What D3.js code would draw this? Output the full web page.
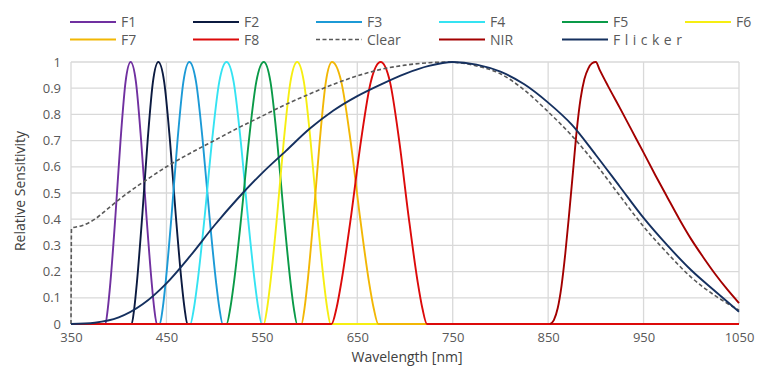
<!DOCTYPE html>
<html>
<head>
<meta charset="utf-8">
<script src="https://cdn.jsdelivr.net/npm/d3@7"></script>
<style>
  body { margin: 0; background: #fff; }
  svg { font-family: "Open Sans", "Liberation Sans", sans-serif; }
</style>
</head>
<body>
<div id="chart"></div>
<script>
// tick labels
const xTicks = [350, 450, 550, 650, 750, 850, 950, 1050];
const yTicks = [0, 0.1, 0.2, 0.3, 0.4, 0.5, 0.6, 0.7, 0.8, 0.9, 1];

// series: [wavelength nm, relative sensitivity]
const f1 = [[350,0],[386,0],[388.6,0.06],[391.3,0.16],[396.6,0.415],[401.9,0.7],[407.2,0.925],[412.5,1],[418,0.925],[423.5,0.7],[429,0.415],[434.5,0.16],[437.2,0.06],[440,0],[1050,0]];
const f2 = [[350,0],[413.5,0],[416.3,0.06],[419.1,0.16],[424.7,0.415],[430.3,0.7],[435.9,0.925],[441.5,1],[447.6,0.925],[453.7,0.7],[459.8,0.415],[465.9,0.16],[469,0.06],[472,0],[1050,0]];
const f3 = [[350,0],[443,0],[446.1,0.06],[449.2,0.16],[455.4,0.415],[461.6,0.7],[467.8,0.925],[474,1],[481,0.925],[488,0.7],[495,0.415],[502,0.16],[505.5,0.06],[509,0],[1050,0]];
const f4 = [[350,0],[475,0],[478.8,0.06],[482.6,0.16],[490.2,0.415],[497.8,0.7],[505.4,0.925],[513,1],[520.4,0.925],[527.8,0.7],[535.2,0.415],[542.6,0.16],[546.3,0.06],[550,0],[1050,0]];
const f5 = [[350,0],[513,0],[516.9,0.06],[520.8,0.16],[528.6,0.415],[536.4,0.7],[544.2,0.925],[552,1],[559,0.925],[566,0.7],[573,0.415],[580,0.16],[583.5,0.06],[587,0],[1050,0]];
const f6 = [[350,0],[552,0],[555.5,0.06],[559,0.16],[566,0.415],[573,0.7],[580,0.925],[587,1],[594,0.925],[601,0.7],[608,0.415],[615,0.16],[618.5,0.06],[622,0],[1050,0]];
const f7 = [[350,0],[591.5,0],[594.7,0.06],[597.9,0.16],[604.3,0.415],[610.7,0.7],[617.1,0.925],[623.5,1],[633.2,0.925],[642.9,0.7],[652.6,0.415],[662.3,0.16],[667.2,0.06],[672,0],[1050,0]];
const f8 = [[350,0],[623,0],[628.2,0.06],[633.3,0.16],[643.6,0.415],[653.9,0.7],[664.2,0.925],[674.5,1],[684.2,0.925],[693.9,0.7],[703.6,0.415],[713.3,0.16],[718.2,0.06],[723,0],[1050,0]];
const clear = [[350,0],[350.5,0.365],[362,0.376],[375,0.4],[387,0.435],[400,0.474],[425,0.54],[450,0.6],[475,0.652],[500,0.7],[525,0.748],[550,0.793],[575,0.838],[600,0.878],[625,0.915],[650,0.947],[675,0.972],[700,0.988],[725,0.997],[745,1],[775,0.985],[800,0.955],[825,0.893],[850,0.81],[875,0.718],[900,0.61],[925,0.49],[950,0.372],[975,0.27],[1000,0.178],[1025,0.108],[1050,0.053]];
const nir = [[852,0],[856,0.015],[860,0.06],[864,0.145],[868,0.27],[872,0.42],[876,0.58],[880,0.74],[884,0.86],[888,0.935],[892,0.975],[896,0.995],[900,1],[904,0.97],[912.5,0.91],[925,0.826],[937.5,0.74],[950,0.654],[962.5,0.567],[975,0.483],[987.5,0.4],[1000,0.323],[1012.5,0.255],[1025,0.191],[1037.5,0.133],[1050,0.08]];
const flicker = [[350,0],[375,0.005],[400,0.025],[425,0.075],[450,0.155],[475,0.26],[500,0.375],[525,0.48],[550,0.575],[575,0.66],[600,0.745],[625,0.815],[650,0.87],[675,0.915],[700,0.955],[725,0.985],[750,1],[775,0.99],[800,0.963],[825,0.915],[850,0.845],[875,0.76],[900,0.645],[925,0.525],[950,0.405],[975,0.3],[1000,0.205],[1025,0.125],[1050,0.047]];

const seriesNames = ["F1", "F2", "F3", "F4", "F5", "F6", "F7", "F8", "Clear", "NIR", "Flicker"];
const seriesData  = [f1, f2, f3, f4, f5, f6, f7, f8, clear, nir, flicker];
const colors = ["#7030a0", "#0b1a40", "#1c9ad6", "#35e3f2", "#0a9a48", "#f6ee12", "#f2b705", "#dc0a0a", "#595959", "#a30000", "#15305f"];

const W = 770, H = 388;
const svg = d3.select("#chart").append("svg")
  .attr("width", W)
  .attr("height", H);

const x = d3.scaleLinear().domain([350, 1050]).range([71, 739]);
const y = d3.scaleLinear().domain([0, 1]).range([324, 62]);

// grid
svg.append("g")
  .selectAll("line")
  .data(yTicks)
  .join("line")
    .attr("x1", x(350)).attr("x2", x(1050))
    .attr("y1", d => y(d)).attr("y2", d => y(d))
    .attr("stroke", "#d9d9d9")
    .attr("stroke-width", 1.3);
svg.append("g")
  .selectAll("line")
  .data(xTicks)
  .join("line")
    .attr("x1", d => x(d)).attr("x2", d => x(d))
    .attr("y1", y(0)).attr("y2", y(1))
    .attr("stroke", "#d9d9d9")
    .attr("stroke-width", 1.3);

// axes
const xAxis = svg.append("g")
  .attr("transform", `translate(0,${y(0)})`)
  .call(d3.axisBottom(x).tickValues(xTicks).tickSize(0).tickPadding(9).tickFormat(d3.format("")));
const yAxis = svg.append("g")
  .attr("transform", `translate(${x(350)},0)`)
  .call(d3.axisLeft(y).tickValues(yTicks).tickSize(0).tickPadding(10).tickFormat(d3.format("")));
[xAxis, yAxis].forEach(a => {
  a.select(".domain").remove();
  a.selectAll("text")
    .attr("fill", "#595959")
    .style("font-size", "13px")
    .style("font-family", "'Open Sans', sans-serif");
});

// axis titles
svg.append("text")
  .attr("x", 407)
  .attr("y", 362)
  .attr("text-anchor", "middle")
  .attr("fill", "#404040")
  .style("font-size", "14px")
  .text("Wavelength [nm]");
svg.append("text")
  .attr("transform", "rotate(-90)")
  .attr("x", -191)
  .attr("y", 25)
  .attr("text-anchor", "middle")
  .attr("fill", "#404040")
  .style("font-size", "14px")
  .text("Relative Sensitivity");

// lines
const line = d3.line()
  .x(d => x(d[0]))
  .y(d => y(d[1]))
  .curve(d3.curveMonotoneX);

seriesData.forEach((s, i) => {
  const name = seriesNames[i];
  svg.append("path")
    .datum(s)
    .attr("fill", "none")
    .attr("stroke", colors[i])
    .attr("stroke-width", name === "Clear" ? 1.6 : 1.9)
    .attr("stroke-dasharray", name === "Clear" ? "4,2.5" : null)
    .attr("stroke-linejoin", "round")
    .attr("d", line);
});

// legend
const legend = svg.append("g");
seriesNames.forEach((name, i) => {
  const col = i < 6 ? i : i - 6;
  const row = i < 6 ? 0 : 1;
  const lx = 70 + col * 123;
  const ly = row === 0 ? 22 : 39.5;
  legend.append("line")
    .attr("x1", lx).attr("x2", lx + 46)
    .attr("y1", ly).attr("y2", ly)
    .attr("stroke", colors[i])
    .attr("stroke-width", name === "Clear" ? 1.6 : 2)
    .attr("stroke-dasharray", name === "Clear" ? "4,2.5" : null);
  legend.append("text")
    .attr("x", lx + 51)
    .attr("y", ly + 5)
    .attr("fill", "#595959")
    .style("font-size", "14px")
    .style("letter-spacing", name === "Flicker" ? "4.5px" : null)
    .text(name);
});
</script>
</body>
</html>
